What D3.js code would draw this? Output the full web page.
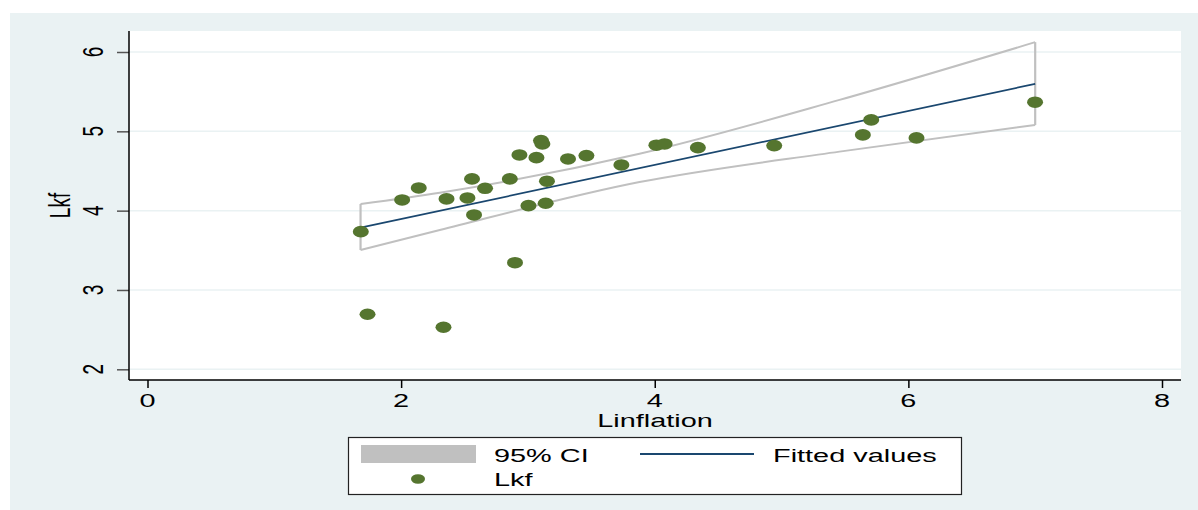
<!DOCTYPE html>
<html><head><meta charset="utf-8">
<script src="https://cdn.jsdelivr.net/npm/d3@7"></script>
<style>html,body{margin:0;padding:0;background:#fff;}svg{display:block;font-family:"Liberation Sans",Arial,sans-serif;}</style>
</head><body>
<svg id="chart" width="1198" height="510"></svg>
<script>
// Data
const linflation = [1.682,1.735,2.008,2.139,2.358,2.334,2.523,2.559,2.575,2.662,2.857,2.898,2.933,3.004,3.067,3.103,3.114,3.150,3.140,3.316,3.461,3.737,4.013,4.078,4.340,4.942,5.641,5.707,6.064,6.999];
const lkf        = [3.735,2.694,4.135,4.286,4.148,2.530,4.160,4.400,3.946,4.282,4.400,3.344,4.702,4.063,4.668,4.883,4.841,4.371,4.093,4.652,4.694,4.576,4.825,4.841,4.794,4.820,4.955,5.144,4.917,5.367];
const fitX = [1.68, 7.0];
const fitY = [3.786, 5.598];
const ciX     = [1.68, 2.305, 3.88, 5.457, 7.0];
const ciLower = [3.504, 3.757, 4.36, 4.744, 5.08];
const ciUpper = [4.084, 4.227, 4.718, 5.396, 6.124];
const xTicks = [0, 2, 4, 6, 8];
const yTicks = [2, 3, 4, 5, 6];
const xTitle = "Linflation";
const yTitle = "Lkf";
const legendLabels = ["95% CI", "Fitted values", "Lkf"];

const svg = d3.select("#chart");
const SX = 1.52; // horizontal text stretch seen in the reference
const bg = "#eaf2f3", green = "#55752f", navy = "#1a476f", ciCol = "#c0c0c0";

const plot = {l:129, r:1181, t:31, b:380};
const x = d3.scaleLinear().domain([0,8]).range([147.5,1162]);
const y = d3.scaleLinear().domain([2,6]).range([369.3,52]);

svg.append("rect").attr("x",10).attr("y",13).attr("width",1188).attr("height",497).attr("fill",bg);
svg.append("rect").attr("x",plot.l).attr("y",plot.t).attr("width",plot.r-plot.l).attr("height",plot.b-plot.t).attr("fill","#fff");

// gridlines
svg.append("g").selectAll("line").data(yTicks).join("line")
  .attr("x1",plot.l).attr("x2",plot.r).attr("y1",d=>y(d)).attr("y2",d=>y(d))
  .attr("stroke",bg).attr("stroke-width",1.5);

// CI band outline
const ciLine = d3.line().x(d=>x(d[0])).y(d=>y(d[1])).curve(d3.curveMonotoneX);
const upperPts = ciX.map((v,i)=>[v,ciUpper[i]]);
const lowerPts = ciX.map((v,i)=>[v,ciLower[i]]);
svg.append("path").attr("d", ciLine(upperPts)).attr("fill","none").attr("stroke",ciCol).attr("stroke-width",2);
svg.append("path").attr("d", ciLine(lowerPts)).attr("fill","none").attr("stroke",ciCol).attr("stroke-width",2);
[0, ciX.length-1].forEach(i=>{
  svg.append("line").attr("x1",x(ciX[i])).attr("x2",x(ciX[i])).attr("y1",y(ciUpper[i])).attr("y2",y(ciLower[i]))
    .attr("stroke",ciCol).attr("stroke-width",2.2);
});

// fitted line
svg.append("path").attr("d", d3.line().x(d=>x(d[0])).y(d=>y(d[1]))(fitX.map((v,i)=>[v,fitY[i]])))
  .attr("fill","none").attr("stroke",navy).attr("stroke-width",1.7);

// points
svg.append("g").selectAll("ellipse").data(linflation.map((v,i)=>[v,lkf[i]])).join("ellipse")
  .attr("cx",d=>x(d[0])).attr("cy",d=>y(d[1])).attr("rx",8).attr("ry",5.8).attr("fill",green);

// axes
const yAxis = svg.append("g").attr("transform",`translate(${plot.l},0)`)
  .call(d3.axisLeft(y).tickValues(yTicks).tickSize(12).tickFormat(""));
yAxis.select(".domain").remove();
yAxis.selectAll(".tick line").attr("stroke","#555").attr("stroke-width",1.5);
svg.append("line").attr("x1",plot.l).attr("x2",plot.l).attr("y1",plot.t).attr("y2",plot.b).attr("stroke","#000").attr("stroke-width",1.5);

const xAxis = svg.append("g").attr("transform",`translate(0,${plot.b})`)
  .call(d3.axisBottom(x).tickValues(xTicks).tickSize(8).tickFormat(""));
xAxis.select(".domain").remove();
xAxis.selectAll(".tick line").attr("stroke","#000").attr("stroke-width",1.5);
svg.append("line").attr("x1",plot.l).attr("x2",plot.r).attr("y1",plot.b).attr("y2",plot.b).attr("stroke","#000").attr("stroke-width",1.5);

// tick labels
svg.append("g").selectAll("text").data(xTicks).join("text")
  .attr("transform",d=>`translate(${x(d)},407) scale(${SX},1)`)
  .attr("text-anchor","middle").attr("font-size",19).attr("fill","#000").text(d=>d);
svg.append("g").selectAll("text").data(yTicks).join("text")
  .attr("transform",d=>`translate(103,${y(d)}) scale(${SX},1) rotate(-90)`)
  .attr("text-anchor","middle").attr("font-size",19).attr("fill","#000").text(d=>d);

// titles
svg.append("text").attr("transform",`translate(${(plot.l+plot.r)/2},427) scale(${SX},1)`)
  .attr("text-anchor","middle").attr("font-size",19).text(xTitle);
svg.append("text").attr("transform",`translate(70,${(plot.t+plot.b)/2}) scale(${SX},1) rotate(-90)`)
  .attr("text-anchor","middle").attr("font-size",19).text(yTitle);

// legend
const lg = svg.append("g");
lg.append("rect").attr("x",348.5).attr("y",437.5).attr("width",613).attr("height",57)
  .attr("fill","#fff").attr("stroke","#222").attr("stroke-width",1.2);
lg.append("rect").attr("x",361).attr("y",445).attr("width",115).attr("height",18).attr("fill",ciCol);
lg.append("line").attr("x1",640).attr("x2",754).attr("y1",454).attr("y2",454).attr("stroke",navy).attr("stroke-width",1.8);
lg.append("ellipse").attr("cx",418).attr("cy",479).attr("rx",7).attr("ry",4.8).attr("fill",green);
const lgText = [[494,461.5,legendLabels[0]],[773,461.5,legendLabels[1]],[494,486,legendLabels[2]]];
lg.selectAll("text").data(lgText).join("text")
  .attr("transform",d=>`translate(${d[0]},${d[1]}) scale(${SX},1)`)
  .attr("font-size",19).attr("fill","#000").text(d=>d[2]);
</script>
</body></html>
